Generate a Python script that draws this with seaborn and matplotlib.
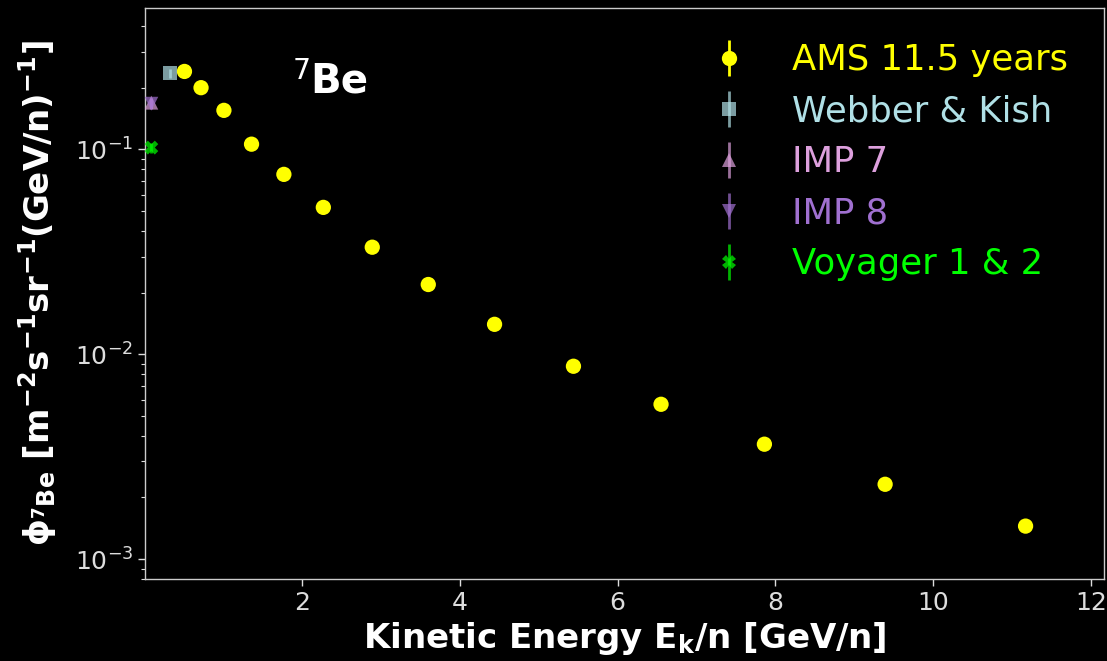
import numpy as np
import pandas as pd
import matplotlib
matplotlib.use("Agg")
import matplotlib.pyplot as plt
import seaborn as sns

# AMS 7Be flux vs kinetic energy per nucleon
ams_ek = [0.51, 0.72, 1.01, 1.36, 1.77, 2.27, 2.89, 3.60, 4.44, 5.44, 6.55, 7.86, 9.39, 11.17]
ams_flux = [0.240, 0.200, 0.155, 0.106, 0.0755, 0.0521, 0.0333, 0.0219, 0.0140,
            0.00874, 0.00570, 0.00364, 0.00232, 0.00145]
ams_err = [0.004, 0.003, 0.002, 0.0015, 0.001, 0.0007, 0.0005, 0.0003, 0.0002,
           0.00015, 0.0001, 0.00007, 0.00005, 0.00004]

# Earlier measurements at low energy
wk_ek, wk_flux, wk_err = [0.33], [0.235], [0.012]
imp7_ek, imp7_flux, imp7_err = [0.09], [0.169], [0.010]
imp8_ek, imp8_flux, imp8_err = [0.09], [0.167], [0.010]
voy_ek, voy_flux, voy_err = [0.09], [0.102], [0.006]

series = [
    ("AMS 11.5 years", ams_ek, ams_flux, ams_err, "o", "#ffff00", 1.0, 11),
    ("Webber & Kish", wk_ek, wk_flux, wk_err, "s", "#b0e0e6", 0.7, 10),
    ("IMP 7", imp7_ek, imp7_flux, imp7_err, "^", "#dda0dd", 0.7, 10),
    ("IMP 8", imp8_ek, imp8_flux, imp8_err, "v", "#a070d0", 0.7, 10),
    ("Voyager 1 & 2", voy_ek, voy_flux, voy_err, "X", "#00ff00", 0.7, 10),
]

sns.set_theme(style="dark", rc={
    "figure.facecolor": "black", "axes.facecolor": "black",
    "axes.edgecolor": "#cccccc", "axes.linewidth": 1.0,
    "xtick.color": "#dddddd", "ytick.color": "#dddddd",
    "text.color": "white", "axes.labelcolor": "white",
    "xtick.bottom": True, "ytick.left": True,
    "axes.grid": False,
})
plt.rcParams["font.family"] = ["DejaVu Sans"]

fig, ax = plt.subplots(figsize=(11.07, 6.61), dpi=100)
fig.subplots_adjust(left=0.131, right=0.997, top=0.988, bottom=0.124)

handles = []
for label, x, y, e, m, c, a, ms in series:
    df = pd.DataFrame({"ek": x, "flux": y})
    # error bars
    ax.errorbar(x, y, yerr=e, fmt="none", ecolor=c, alpha=a, elinewidth=2,
                capsize=0, zorder=3)
    # data points
    sns.scatterplot(data=df, x="ek", y="flux", marker=m, color=c, alpha=a,
                    s=(ms ** 2), edgecolor="none", linewidth=0, ax=ax,
                    legend=False, zorder=4)
    # legend entry with a vertical error bar through the marker
    h = ax.errorbar([np.nan], [np.nan], yerr=[np.nan], fmt=m, color=c, alpha=a,
                    markersize=ms, elinewidth=2, capsize=0, markeredgewidth=0,
                    label=label)
    handles.append((h, c))

ax.set_yscale("log")
ax.set_xlim(0.01, 12.16)
ax.set_ylim(8.0e-4, 0.49)
ax.set_xticks([2, 4, 6, 8, 10, 12])
ax.tick_params(axis="both", labelsize=18, length=5, width=1, colors="#dddddd")
ax.tick_params(axis="y", which="minor", length=3, width=0.8, colors="#dddddd")

ax.set_xlabel(r"Kinetic Energy E$_\mathbf{k}$/n [GeV/n]", fontsize=24.5,
              fontweight="bold", labelpad=4)
ax.set_ylabel(r"$\mathbf{\phi_{^7Be}}$ [m$^{\mathbf{-2}}$s$^{\mathbf{-1}}$sr$^{\mathbf{-1}}$(GeV/n)$^{\mathbf{-1}}$]",
              fontsize=24.5, fontweight="bold", labelpad=11)

ax.text(0.172, 0.872, r"$^{7}$", transform=ax.transAxes, fontsize=29,
        color="white", ha="right", va="center")
ax.text(0.172, 0.872, "Be", transform=ax.transAxes, fontsize=29,
        fontweight="bold", color="white", ha="left", va="center")

leg = ax.legend(handles=[h for h, _ in handles], loc="upper right", frameon=False,
                fontsize=25.5, handletextpad=0.8, labelspacing=0.48,
                borderaxespad=0.6)
for t, (_, c) in zip(leg.get_texts(), handles):
    t.set_color(c)

fig.savefig("out.png", dpi=100, facecolor="black")
